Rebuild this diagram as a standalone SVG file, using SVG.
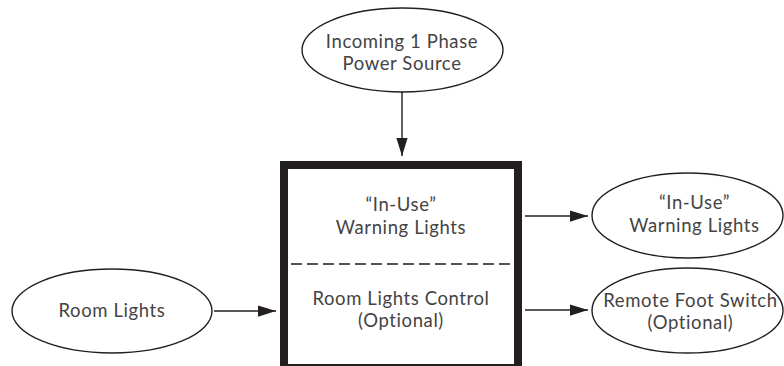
<svg xmlns="http://www.w3.org/2000/svg" width="784" height="366" viewBox="0 0 784 366">
<defs>
<style>
.node ellipse{fill:#fff;stroke:#231f20;stroke-width:1.4}
text{font-family:Lato,"Open Sans","Liberation Sans",sans-serif;font-size:18.5px;font-weight:400;fill:#454344;text-anchor:middle;letter-spacing:0.6px}
.conn line{stroke:#231f20;stroke-width:1.4}
</style>
<marker id="ah" markerUnits="userSpaceOnUse" markerWidth="18" markerHeight="12" refX="16" refY="5" orient="auto" viewBox="0 0 16 10">
<path d="M0,0 L16,5 L0,10 Z" fill="#231f20"/>
</marker>
</defs>
<rect width="784" height="366" fill="#fff"/>
<g id="connectors" class="conn">
<line x1="402" y1="92" x2="402" y2="156" marker-end="url(#ah)"/>
<line x1="525" y1="216" x2="588" y2="216" marker-end="url(#ah)"/>
<line x1="525" y1="310" x2="588" y2="310" marker-end="url(#ah)"/>
<line x1="214" y1="311" x2="276" y2="311" marker-end="url(#ah)"/>
</g>
<g id="power-source" class="node">
<ellipse cx="402.5" cy="50" rx="100.5" ry="42"/>
<text x="402" y="48">Incoming 1 Phase</text>
<text x="402" y="70">Power Source</text>
</g>
<g id="controller" class="node">
<rect x="284" y="165" width="234" height="203" fill="#fff" stroke="#231f20" stroke-width="8"/>
<line x1="291" y1="264" x2="511" y2="264" stroke="#231f20" stroke-width="1.4" stroke-dasharray="11,5"/>
<text x="401" y="211">“In-Use”</text>
<text x="401" y="234">Warning Lights</text>
<text x="401" y="305">Room Lights Control</text>
<text x="401" y="327">(Optional)</text>
</g>
<g id="warning-lights" class="node">
<ellipse cx="687.5" cy="215.5" rx="95.5" ry="42.5"/>
<text x="694.5" y="209">“In-Use”</text>
<text x="694.5" y="232">Warning Lights</text>
</g>
<g id="foot-switch" class="node">
<ellipse cx="687.5" cy="310.5" rx="95.5" ry="42.5"/>
<text x="690.5" y="307">Remote Foot Switch</text>
<text x="690.5" y="329">(Optional)</text>
</g>
<g id="room-lights" class="node">
<ellipse cx="112" cy="311" rx="100" ry="42"/>
<text x="112" y="317">Room Lights</text>
</g>
</svg>
